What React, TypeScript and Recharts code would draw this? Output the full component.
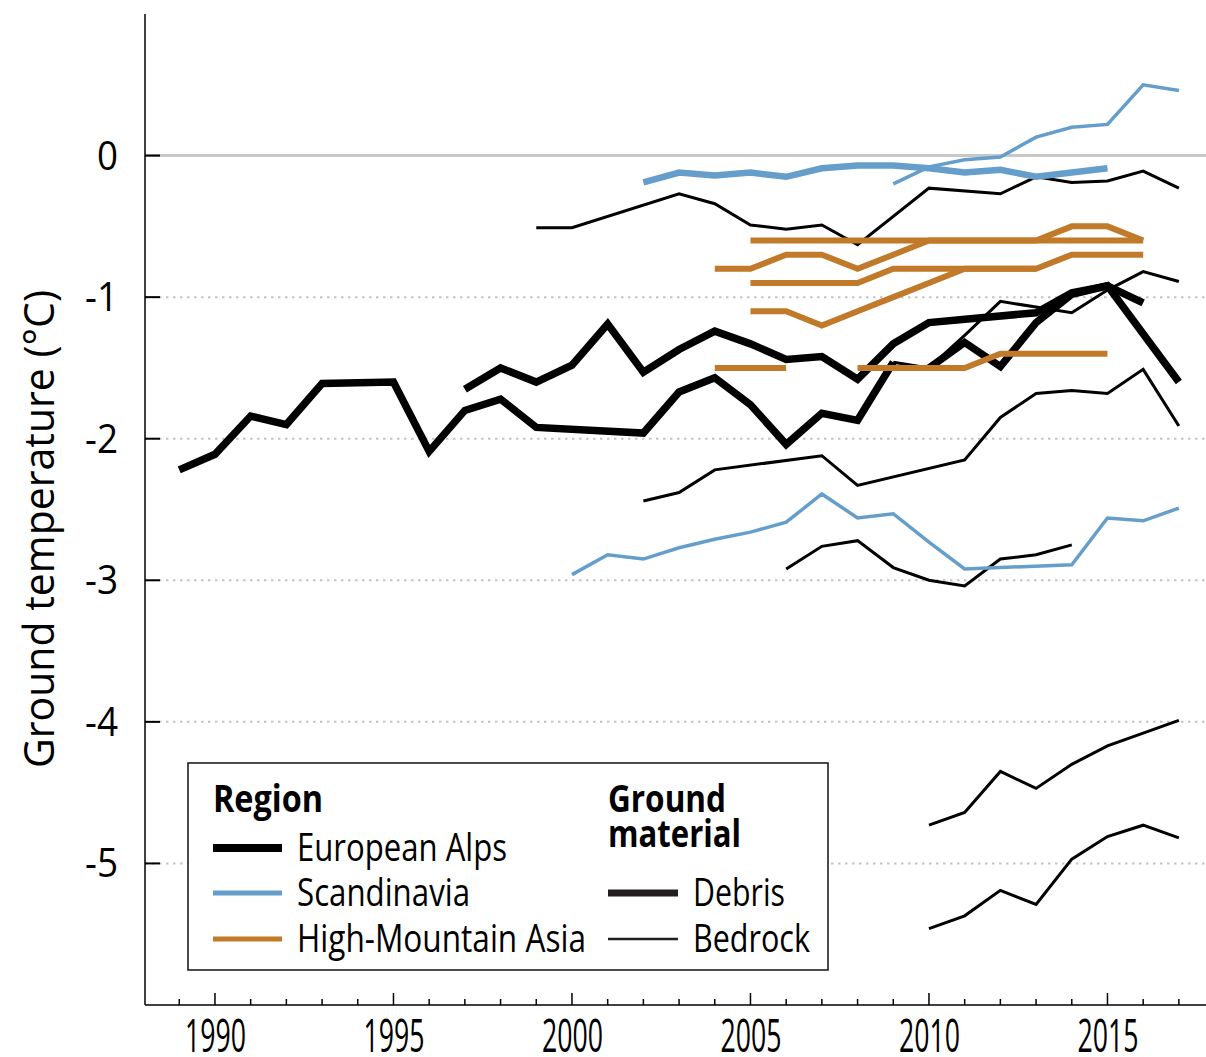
import React from 'react'
import { LineChart, Line, XAxis, YAxis, ReferenceLine, Label } from 'recharts'

type Pt = [number, number]

// European Alps – debris (thick black)
const alpsDebrisLong: Pt[] = [
  [1989, -2.22], [1990, -2.11], [1991, -1.84], [1992, -1.9], [1993, -1.61], [1995, -1.6],
  [1996, -2.09], [1997, -1.8], [1998, -1.72], [1999, -1.92], [2002, -1.96], [2003, -1.67],
  [2004, -1.57], [2005, -1.76], [2006, -2.04], [2007, -1.82], [2008, -1.87], [2009, -1.46],
]
const alpsDebrisLate: Pt[] = [
  [2010, -1.5], [2011, -1.32], [2012, -1.49], [2013, -1.18], [2014, -0.98], [2015, -0.92],
  [2017, -1.6],
]
const alpsDebrisShort: Pt[] = [
  [1997, -1.65], [1998, -1.5], [1999, -1.6], [2000, -1.48], [2001, -1.19], [2002, -1.53],
  [2003, -1.37], [2004, -1.24], [2005, -1.33], [2006, -1.44], [2007, -1.42], [2008, -1.58],
  [2009, -1.33], [2010, -1.18], [2013, -1.11], [2014, -0.97], [2015, -0.92], [2016, -1.04],
]

// European Alps – bedrock (thin black)
const alpsBedrockTop: Pt[] = [
  [1999, -0.51], [2000, -0.51], [2003, -0.27], [2004, -0.34], [2005, -0.49], [2006, -0.52],
  [2007, -0.49], [2008, -0.63], [2010, -0.23], [2012, -0.27], [2013, -0.15], [2014, -0.19],
  [2015, -0.18], [2016, -0.11], [2017, -0.23],
]
const alpsBedrockUpper: Pt[] = [
  [2009, -1.46], [2010, -1.5], [2011, -1.27], [2012, -1.03], [2013, -1.07], [2014, -1.11],
  [2015, -0.95], [2016, -0.82], [2017, -0.89],
]
const alpsBedrockMid: Pt[] = [
  [2002, -2.44], [2003, -2.38], [2004, -2.22], [2007, -2.12], [2008, -2.33], [2011, -2.15],
  [2012, -1.85], [2013, -1.68], [2014, -1.66], [2015, -1.68], [2016, -1.51], [2017, -1.91],
]
const alpsBedrockLow: Pt[] = [
  [2006, -2.92], [2007, -2.76], [2008, -2.72], [2009, -2.91], [2010, -3.0], [2011, -3.04],
  [2012, -2.85], [2013, -2.82], [2014, -2.75],
]
const alpsBedrockCold1: Pt[] = [
  [2010, -4.73], [2011, -4.64], [2012, -4.35], [2013, -4.47], [2014, -4.3], [2015, -4.17],
  [2016, -4.08], [2017, -3.99],
]
const alpsBedrockCold2: Pt[] = [
  [2010, -5.46], [2011, -5.37], [2012, -5.19], [2013, -5.29], [2014, -4.97], [2015, -4.81],
  [2016, -4.73], [2017, -4.82],
]

// Scandinavia
const scandDebris: Pt[] = [
  [2002, -0.19], [2003, -0.12], [2004, -0.14], [2005, -0.12], [2006, -0.15], [2007, -0.09],
  [2008, -0.07], [2009, -0.07], [2010, -0.09], [2011, -0.12], [2012, -0.1], [2013, -0.15],
  [2014, -0.12], [2015, -0.09],
]
const scandBedrockWarm: Pt[] = [
  [2009, -0.2], [2010, -0.08], [2011, -0.03], [2012, -0.01], [2013, 0.13], [2014, 0.2],
  [2015, 0.22], [2016, 0.5], [2017, 0.46],
]
const scandBedrockCold: Pt[] = [
  [2000, -2.96], [2001, -2.82], [2002, -2.85], [2003, -2.77], [2004, -2.71], [2005, -2.66],
  [2006, -2.59], [2007, -2.39], [2008, -2.56], [2009, -2.53], [2010, -2.73], [2011, -2.92],
  [2014, -2.89], [2015, -2.56], [2016, -2.58], [2017, -2.49],
]

// High-Mountain Asia
const hmaA: Pt[] = [[2005, -0.6], [2016, -0.6]]
const hmaB: Pt[] = [
  [2004, -0.8], [2005, -0.8], [2006, -0.7], [2007, -0.7], [2008, -0.8], [2009, -0.7],
  [2010, -0.6], [2013, -0.6], [2014, -0.5], [2015, -0.5], [2016, -0.6],
]
const hmaC: Pt[] = [
  [2005, -0.9], [2008, -0.9], [2009, -0.8], [2013, -0.8], [2014, -0.7], [2016, -0.7],
]
const hmaD: Pt[] = [
  [2005, -1.1], [2006, -1.1], [2007, -1.2], [2008, -1.1], [2009, -1.0], [2010, -0.9],
  [2011, -0.8], [2013, -0.8],
]
const hmaE: Pt[] = [[2004, -1.5], [2006, -1.5]]
const hmaF: Pt[] = [[2008, -1.5], [2011, -1.5], [2012, -1.4], [2015, -1.4]]

const majorYears = [1990, 1995, 2000, 2005, 2010, 2015]
const allYears = [
  1989, 1990, 1991, 1992, 1993, 1994, 1995, 1996, 1997, 1998, 1999, 2000, 2001, 2002, 2003,
  2004, 2005, 2006, 2007, 2008, 2009, 2010, 2011, 2012, 2013, 2014, 2015, 2016, 2017,
]
const yTicks = [-5, -4, -3, -2, -1, 0]
const gridValues = [-5, -4, -3, -2, -1]

const BLACK = '#000000'
const BLUE = '#659ecb'
const ORANGE = '#c17a29'
const FONT = '"Open Sans", "DejaVu Sans", sans-serif'

const THIN = 3
const THICK = 7.5

const series = [
  { id: 'ab1', pts: alpsBedrockTop, color: BLACK, w: THIN },
  { id: 'ab2', pts: alpsBedrockUpper, color: BLACK, w: THIN },
  { id: 'ab3', pts: alpsBedrockMid, color: BLACK, w: THIN },
  { id: 'ab4', pts: alpsBedrockLow, color: BLACK, w: THIN },
  { id: 'ab5', pts: alpsBedrockCold1, color: BLACK, w: THIN },
  { id: 'ab6', pts: alpsBedrockCold2, color: BLACK, w: THIN },
  { id: 'ad1', pts: alpsDebrisLong, color: BLACK, w: THICK },
  { id: 'ad2', pts: alpsDebrisShort, color: BLACK, w: THICK },
  { id: 'ad3', pts: alpsDebrisLate, color: BLACK, w: THICK },
  { id: 'sb1', pts: scandBedrockWarm, color: BLUE, w: 3.5 },
  { id: 'sb2', pts: scandBedrockCold, color: BLUE, w: 3.5 },
  { id: 'sd1', pts: scandDebris, color: BLUE, w: 6.5 },
  { id: 'h1', pts: hmaA, color: ORANGE, w: 6 },
  { id: 'h2', pts: hmaB, color: ORANGE, w: 6 },
  { id: 'h3', pts: hmaC, color: ORANGE, w: 6 },
  { id: 'h4', pts: hmaD, color: ORANGE, w: 6 },
  { id: 'h5', pts: hmaE, color: ORANGE, w: 6 },
  { id: 'h6', pts: hmaF, color: ORANGE, w: 6 },
]

// condensed look: squeeze real text to the widths seen in the figure
const T = ({ w, children, ...rest }: any) => (
  <text fontFamily={FONT} fill="#000" textLength={w} lengthAdjust="spacingAndGlyphs" {...rest}>
    {children}
  </text>
)

const XTick = (p: any) => {
  const v = p.payload.value
  const major = majorYears.includes(v)
  return (
    <g>
      <line x1={p.x} x2={p.x} y1={p.y} y2={p.y - (major ? 12 : 6)} stroke="#000" strokeWidth={1.5} />
      {major && (
        <T x={p.x - 30} y={p.y + 47} w={61} fontSize={45}>
          {v}
        </T>
      )}
    </g>
  )
}

const YTick = (p: any) => {
  const v = p.payload.value
  const w = v === 0 ? 21 : 33
  return (
    <g>
      <line x1={p.x} x2={p.x + 15} y1={p.y} y2={p.y} stroke="#000" strokeWidth={2} />
      <T x={p.x - 27 - w} y={p.y + 14} w={w} fontSize={40}>
        {v}
      </T>
    </g>
  )
}

function LegendBox() {
  const t = { fontSize: 38 }
  const b = { fontSize: 37, fontWeight: 700 }
  return (
    <svg width={642} height={209} style={{ position: 'absolute', left: 187, top: 762 }}>
      <rect x={1} y={1} width={640} height={207} fill="#fff" stroke="#111" strokeWidth={1.5} />
      <T x={26} y={50} w={110} {...b}>Region</T>
      <line x1={26} x2={95} y1={86} y2={86} stroke={BLACK} strokeWidth={8} />
      <T x={110} y={99} w={210} {...t}>European Alps</T>
      <line x1={26} x2={95} y1={131} y2={131} stroke={BLUE} strokeWidth={5} />
      <T x={110} y={144} w={173} {...t}>Scandinavia</T>
      <line x1={26} x2={95} y1={177} y2={177} stroke={ORANGE} strokeWidth={5} />
      <T x={110} y={190} w={289} {...t}>High-Mountain Asia</T>
      <T x={421} y={50} w={118} {...b}>Ground</T>
      <T x={421} y={85} w={133} {...b}>material</T>
      <line x1={421} x2={491} y1={131} y2={131} stroke="#231f20" strokeWidth={7} />
      <T x={506} y={144} w={92} {...t}>Debris</T>
      <line x1={421} x2={491} y1={177} y2={177} stroke="#231f20" strokeWidth={2.5} />
      <T x={506} y={190} w={117} {...t}>Bedrock</T>
    </svg>
  )
}

export default function App() {
  return (
    <div style={{ position: 'absolute', left: 0, top: 0, width: 1206, height: 1057, background: '#fff' }}>
      <LineChart width={1206} height={1057} margin={{ top: 14, right: 0, bottom: 0, left: 0 }}>
        {gridValues.map((g) => (
          <ReferenceLine key={g} y={g} stroke="#c4c4c4" strokeWidth={2} strokeDasharray="2.5 4.5" />
        ))}
        <ReferenceLine y={0} stroke="#c8c8c8" strokeWidth={3} />
        <XAxis
          type="number"
          dataKey="year"
          domain={[1988.04, 2017.76]}
          ticks={allYears}
          interval={0}
          allowDataOverflow
          height={52}
          tickSize={0}
          tickMargin={0}
          tickLine={false}
          axisLine={{ stroke: '#000', strokeWidth: 1.5 }}
          tick={<XTick />}
        />
        <YAxis
          type="number"
          domain={[-6, 1]}
          ticks={yTicks}
          interval={0}
          allowDataOverflow
          width={145}
          tickSize={0}
          tickMargin={0}
          tickLine={false}
          axisLine={{ stroke: '#000', strokeWidth: 1.5 }}
          tick={<YTick />}
        >
          <Label
            content={() => (
              <T
                x={37}
                y={529}
                w={478}
                transform="rotate(-90, 37, 529)"
                textAnchor="middle"
                dominantBaseline="central"
                fontSize={42}
              >
                Ground temperature (°C)
              </T>
            )}
          />
        </YAxis>
        {series.map((s) => (
          <Line
            key={s.id}
            data={s.pts.map(([year, v]) => ({ year, v }))}
            dataKey="v"
            type="linear"
            stroke={s.color}
            strokeWidth={s.w}
            strokeLinejoin="miter"
            strokeLinecap="butt"
            dot={false}
            activeDot={false}
            isAnimationActive={false}
          />
        ))}
      </LineChart>
      <LegendBox />
    </div>
  )
}
